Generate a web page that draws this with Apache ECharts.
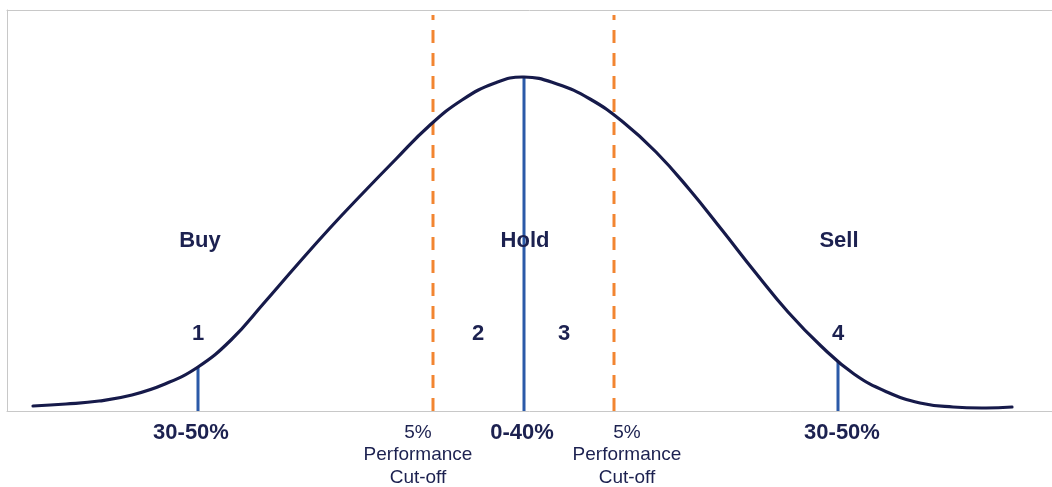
<!DOCTYPE html>
<html>
<head>
<meta charset="utf-8">
<script src="https://cdn.jsdelivr.net/npm/echarts@6/dist/echarts.min.js"></script>
<style>
html,body{margin:0;padding:0;background:#fff;}
#chart{width:1052px;height:487px;}
</style>
</head>
<body>
<div id="chart"></div>
<script>
// Curve (position along axis, height above baseline)
const curveX = [26, 59, 92, 125, 158, 191, 224, 257, 290, 323, 356, 389, 422, 455, 488, 517, 550, 583, 616, 649, 682, 715, 748, 781, 814, 847, 880, 913, 946, 979, 1005];
const curveY = [5, 7, 10, 16, 27, 44, 71, 108, 146, 183, 218, 252, 285, 311, 328, 334, 327, 312, 289, 259, 222, 181, 139, 99, 65, 37, 19, 8, 4, 3, 4];

// Solid blue markers (position, height)
const blueX = [191, 517, 831];
const blueTop = [44, 334, 50];

// Dashed cut-off lines
const cutX = [426, 607];
const cutTop = 396;

// Text labels
const zoneNames = ['Buy', 'Hold', 'Sell'];
const zoneX = [193, 518, 832];
const zoneY = 170;

const numNames = ['1', '2', '3', '4'];
const numX = [191, 471, 557, 831];
const numY = 77;

const pctNames = ['30-50%', '0-40%', '30-50%'];
const pctX = [184, 515, 835];
const pctY = -22;

const cutNames = ['5%\nPerformance\nCut-off', '5%\nPerformance\nCut-off'];
const cutLabelX = [411, 620];
const cutLabelY = -44;

const NAVY = '#1c2150';
const FONT = '"Liberation Sans", Arial, sans-serif';
const BORDER = '#c8c8c8';

function textSeries(names, xs, y, size, weight, lh) {
  return {
    type: 'scatter',
    clip: false,
    silent: true,
    symbolSize: 1,
    itemStyle: { color: 'rgba(0,0,0,0)', opacity: 1 },
    label: {
      show: true,
      position: 'inside',
      formatter: p => names[p.dataIndex],
      color: NAVY,
      fontFamily: FONT,
      fontSize: size,
      fontWeight: weight,
      lineHeight: lh || Math.round(size * 1.2),
      align: 'center'
    },
    data: xs.map(x => [x, y]),
    z: 10
  };
}

const series = [];
cutX.forEach(x => {
  series.push({
    type: 'line', symbol: 'none', silent: true,
    lineStyle: { color: '#f28531', width: 3, type: [13, 10] },
    data: [[x, 0], [x, cutTop]], z: 3
  });
});
blueX.forEach((x, i) => {
  series.push({
    type: 'line', symbol: 'none', silent: true,
    lineStyle: { color: '#2b5aa8', width: 3 },
    data: [[x, 0], [x, blueTop[i]]], z: 4
  });
});
// Smooth bell curve drawn through the axes' scales
series.push({
  type: 'custom', silent: true, clip: false, z: 5,
  data: curveX.map((x, i) => [x, curveY[i]]),
  renderItem: function (params, api) {
    if (params.dataIndex !== 0) return null;
    const pts = curveX.map((x, i) => api.coord([x, curveY[i]]));
    return {
      type: 'polyline',
      shape: { points: pts, smooth: 0.45 },
      style: { stroke: '#161a4a', lineWidth: 3.2, fill: null, lineCap: 'round' }
    };
  }
});
series.push(textSeries(zoneNames, zoneX, zoneY, 22, 'bold'));
series.push(textSeries(numNames, numX, numY, 22, 'bold'));
series.push(textSeries(pctNames, pctX, pctY, 22, 'bold'));
series.push(textSeries(cutNames, cutLabelX, cutLabelY, 19, 'normal', 22.5));

const axisLine = { show: true, lineStyle: { color: BORDER, width: 1 } };
const chart = echarts.init(document.getElementById('chart'));
chart.setOption({
  animation: false,
  grid: { left: 7, right: 0, top: 10, bottom: 76 },
  xAxis: [
    { type: 'value', min: 0, max: 1045, position: 'bottom', axisLine: axisLine, axisTick: { show: false }, axisLabel: { show: false }, splitLine: { show: false } },
    { type: 'value', min: 0, max: 1045, position: 'top', axisLine: axisLine, axisTick: { show: false }, axisLabel: { show: false }, splitLine: { show: false } }
  ],
  yAxis: { type: 'value', min: 0, max: 401, axisLine: axisLine, axisTick: { show: false }, axisLabel: { show: false }, splitLine: { show: false } },
  series: series
});
</script>
</body>
</html>
